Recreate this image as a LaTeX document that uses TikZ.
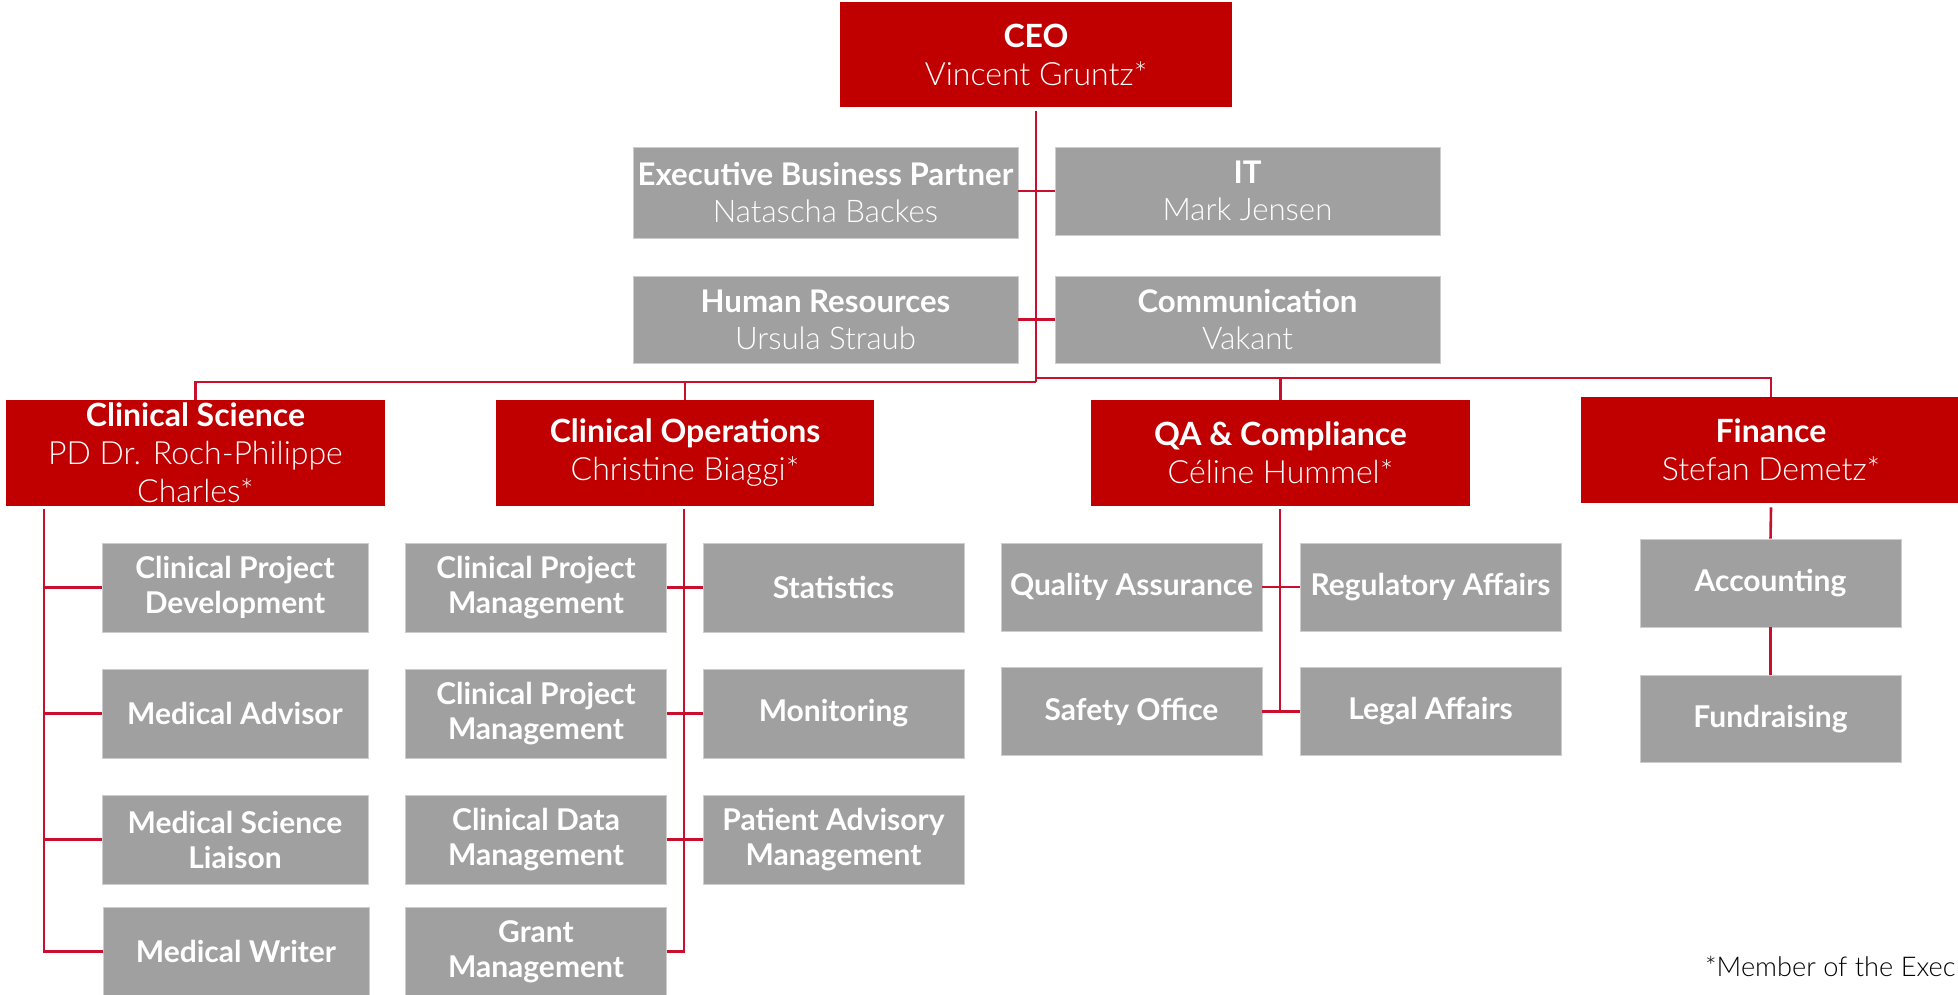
\documentclass[tikz,border=0pt]{standalone}
\usepackage{fontspec}
\IfFontExistsTF{Lato}{\setmainfont{Lato}}{\setmainfont{Liberation Sans}}
\IfFontExistsTF{Lato Light}{\newfontfamily\lightfont{Lato Light}}{\newfontfamily\lightfont{Lato}}
\newcommand\nm[1]{{\lightfont\fontseries{m}\selectfont #1}}
\definecolor{cred}{RGB}{192,0,0}
\definecolor{cline}{RGB}{200,16,46}
\definecolor{cgray}{RGB}{160,160,160}
\tikzset{
  rbox/.style={fill=cred, text=white, align=center, inner sep=0pt,
    font=\fontsize{16}{19}\selectfont},
  gbox/.style={fill=cgray, draw={rgb,255:red,205;green,205;blue,205}, line width=0.4pt,
    text=white, align=center, inner sep=0pt, font=\fontsize{15.6}{18.5}\selectfont},
  lbox/.style={gbox, minimum width=130.5pt, minimum height=44.5pt, font=\bfseries\fontsize{15}{17.5}\selectfont},
  conn/.style={draw=cline, line width=1.3pt},
}
\begin{document}
\begin{tikzpicture}[x=0.5pt,y=-0.5pt]
\useasboundingbox (0,0) rectangle (1958,995);
\clip (0,0) rectangle (1958,995);
% CEO
\node[rbox, minimum width=196pt, minimum height=52.5pt] (ceo) at (1036,55) {\textbf{CEO}\\\nm{Vincent Gruntz*}};
% staff
\node[gbox, minimum width=192.5pt, minimum height=45.5pt] (ebp) at (825.5,193) {\textbf{Executive Business Partner}\\\nm{Natascha Backes}};
\node[gbox, minimum width=192.5pt, minimum height=44pt] (it) at (1247.5,191) {\textbf{IT}\\\nm{Mark Jensen}};
\node[gbox, minimum width=192.5pt, minimum height=43.5pt] (hr) at (825.5,319.5) {\textbf{Human Resources}\\\nm{Ursula Straub}};
\node[gbox, minimum width=192.5pt, minimum height=43.5pt] (com) at (1247.5,319.5) {\textbf{Communication}\\\nm{Vakant}};
% departments
\node[rbox, minimum width=189.5pt, minimum height=53pt] (cs) at (195.5,453) {\textbf{Clinical Science}\\\nm{PD Dr. Roch-Philippe}\\\nm{Charles*}};
\node[rbox, minimum width=189pt, minimum height=53pt] (co) at (685,453) {\textbf{Clinical Operations}\\\nm{Christine Biaggi*}};
\node[rbox, minimum width=189.5pt, minimum height=53pt] (qa) at (1280.5,453) {\textbf{QA \& Compliance}\\\nm{Céline Hummel*}};
\node[rbox, minimum width=190pt, minimum height=53pt] (fin) at (1771,450) {\textbf{Finance}\\\nm{Stefan Demetz*}};
% Clinical Science units
\node[lbox, minimum width=133pt] (cpd) at (235,587.5) {Clinical Project\\Development};
\node[lbox, minimum width=133pt] (ma) at (235,713.5) {Medical Advisor};
\node[lbox, minimum width=133pt] (msl) at (235,839.5) {Medical Science\\Liaison};
\node[lbox, minimum width=133pt] (mw) at (236,951.5) {Medical Writer};
% Clinical Operations units
\node[lbox] (cpm1) at (536,587.5) {Clinical Project\\Management};
\node[lbox] (cpm2) at (536,713.5) {Clinical Project\\Management};
\node[lbox] (cdm) at (536,839.5) {Clinical Data\\Management};
\node[lbox] (gm) at (536,951.5) {Grant\\Management};
\node[lbox] (stat) at (833.5,587.5) {Statistics};
\node[lbox] (mon) at (833.5,713.5) {Monitoring};
\node[lbox] (pam) at (833.5,839.5) {Patient Advisory\\Management};
% QA units
\node[lbox, minimum height=44pt] (qas) at (1131.5,587) {Quality Assurance};
\node[lbox, minimum height=44pt] (ra) at (1430.5,587) {Regulatory Affairs};
\node[lbox, minimum height=44pt] (so) at (1131.5,711.5) {Safety Office};
\node[lbox, minimum height=44pt] (la) at (1430.5,711.5) {Legal Affairs};
% Finance units
\node[lbox, minimum height=44pt] (acc) at (1770.5,583) {Accounting};
\node[lbox, minimum height=43.5pt] (fund) at (1770.5,719) {Fundraising};
% footnote
\node[anchor=base east, inner sep=0pt, font=\fontsize{13.6}{16}\selectfont] (note) at (1956,976) {\nm{*Member of the Exec}};
% connectors
\coordinate (ceob) at (1036,111);
\coordinate (j0) at (1036,382);
\coordinate (j1) at (1036,378);
\draw[conn] (ceob) -- (j0);
\draw[conn] (ebp.east |- it) -- (it.west);
\draw[conn] (hr.east) -- (com.west);
\draw[conn] (cs.north) -- (cs.north |- j0) -- (j0);
\draw[conn] (co.north) -- (co.north |- j0);
\draw[conn] (j0) -- (j1) -- (fin.north |- j1) -- (fin.north);
\draw[conn] (qa.north) -- (qa.north |- j1);
% Clinical Science spine
\coordinate (cs1) at (44,509);
\draw[conn] (cs1) |- (mw.west);
\draw[conn] (cs1 |- cpd) -- (cpd.west);
\draw[conn] (cs1 |- ma) -- (ma.west);
\draw[conn] (cs1 |- msl) -- (msl.west);
% Clinical Operations spine
\coordinate (co1) at (684,509);
\draw[conn] (co1) |- (gm.east);
\draw[conn] (cpm1.east) -- (stat.west);
\draw[conn] (cpm2.east) -- (mon.west);
\draw[conn] (cdm.east) -- (pam.west);
% QA spine
\coordinate (qa1) at (1280,509);
\draw[conn] (qa1) |- (so.east);
\draw[conn] (qas.east) -- (ra.west);
\draw[conn] (so.east) -- (la.west);
% Finance
\draw[conn] (fin.south) ++(0,4) -- (acc.north);
\draw[conn] (acc.south) -- (fund.north);
\end{tikzpicture}
\end{document}
